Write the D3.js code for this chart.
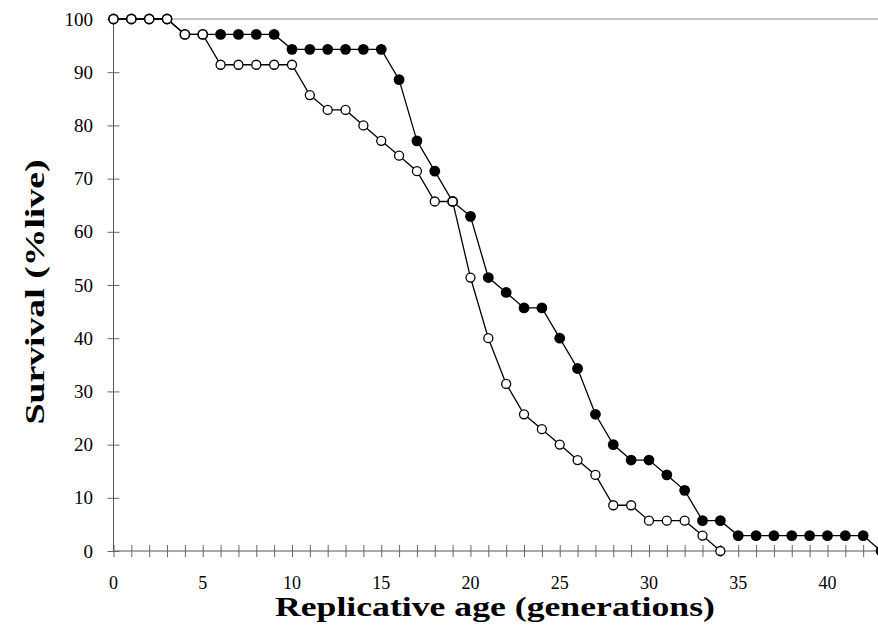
<!DOCTYPE html>
<html lang="en">
<head>
    <meta charset="UTF-8">
    <title>Survival curves</title>
    <script src="https://d3js.org/d3.v7.min.js"></script>
    <style>
        body { margin: 0; background: #fff; }
        svg { display: block; }
        text { font-family: "Liberation Serif", "Times New Roman", serif; fill: #000; }
    </style>
</head>
<body>
    <svg id="chart" width="878" height="637"></svg>

    <script>
        // generations (x) for each series
        const filledAge = d3.range(0, 44);   // 0..43
        const openAge = d3.range(0, 35);     // 0..34

        // survival (% live), filled circles
        const filledSurvival = [
            100, 100, 100, 100, 97.1, 97.1, 97.1, 97.1, 97.1, 97.1,
            94.3, 94.3, 94.3, 94.3, 94.3, 94.3, 88.6, 77.1, 71.4, 65.7,
            62.9, 51.4, 48.6, 45.7, 45.7, 40.0, 34.3, 25.7, 20.0, 17.1,
            17.1, 14.3, 11.4, 5.7, 5.7, 2.9, 2.9, 2.9, 2.9, 2.9,
            2.9, 2.9, 2.9, 0
        ];

        // survival (% live), open circles
        const openSurvival = [
            100, 100, 100, 100, 97.1, 97.1, 91.4, 91.4, 91.4, 91.4,
            91.4, 85.7, 82.9, 82.9, 80.0, 77.1, 74.3, 71.4, 65.7, 65.7,
            51.4, 40.0, 31.4, 25.7, 22.9, 20.0, 17.1, 14.3, 8.6, 8.6,
            5.7, 5.7, 5.7, 2.9, 0
        ];

        const yTicks = [0, 10, 20, 30, 40, 50, 60, 70, 80, 90, 100];
        const xTicks = [0, 5, 10, 15, 20, 25, 30, 35, 40];

        const svg = d3.select("#chart");

        const x = d3.scaleLinear().domain([0, 43]).range([113.5, 881]);
        const y = d3.scaleLinear().domain([0, 100]).range([551, 19]);

        // top border line
        svg.append("line")
            .attr("x1", x(0)).attr("x2", 878)
            .attr("y1", y(100)).attr("y2", y(100))
            .attr("stroke", "#8a8a8a").attr("stroke-width", 1);

        // x axis: ticks every generation, crossing the axis line
        const xAxis = svg.append("g")
            .attr("transform", `translate(0, ${y(0)})`)
            .call(d3.axisBottom(x).tickValues(d3.range(0, 44)).tickSize(6).tickFormat(""));
        xAxis.select(".domain").attr("stroke", "#555").attr("d", `M${x(0)},0H878`);
        xAxis.selectAll(".tick line").attr("y1", -6).attr("y2", 6).attr("stroke", "#666");

        svg.append("g").selectAll("text")
            .data(xTicks)
            .join("text")
            .attr("x", d => x(d))
            .attr("y", 589)
            .attr("text-anchor", "middle")
            .attr("font-size", 18)
            .text(d => d);

        // y axis
        const yAxis = svg.append("g")
            .attr("transform", `translate(${x(0)}, 0)`)
            .call(d3.axisLeft(y).tickValues(yTicks).tickSize(6).tickFormat(""));
        yAxis.select(".domain").attr("stroke", "#555").attr("d", `M0,${y(0)}V${y(100)}`);
        yAxis.selectAll(".tick line").attr("x1", -6).attr("x2", 6).attr("stroke", "#666");

        svg.append("g").selectAll("text")
            .data(yTicks)
            .join("text")
            .attr("x", 93)
            .attr("y", d => y(d))
            .attr("dy", "0.35em")
            .attr("text-anchor", "end")
            .attr("font-size", 19)
            .text(d => d);

        // axis titles
        svg.append("text")
            .attr("x", 495)
            .attr("y", 616)
            .attr("text-anchor", "middle")
            .attr("font-size", 27)
            .attr("font-weight", "bold")
            .attr("textLength", 440)
            .attr("lengthAdjust", "spacingAndGlyphs")
            .text("Replicative age (generations)");

        svg.append("text")
            .attr("transform", "translate(44, 292) rotate(-90)")
            .attr("text-anchor", "middle")
            .attr("font-size", 28)
            .attr("font-weight", "bold")
            .attr("textLength", 265)
            .attr("lengthAdjust", "spacingAndGlyphs")
            .text("Survival (%live)");

        const line = d3.line()
            .x(d => x(d[0]))
            .y(d => y(d[1]));

        // filled series first, open series drawn on top
        const filled = filledAge.map((a, i) => [a, filledSurvival[i]]);
        const open = openAge.map((a, i) => [a, openSurvival[i]]);

        svg.append("path")
            .datum(filled)
            .attr("d", line)
            .attr("fill", "none")
            .attr("stroke", "#000")
            .attr("stroke-width", 1.3);

        svg.append("g").selectAll("circle")
            .data(filled)
            .join("circle")
            .attr("cx", d => x(d[0]))
            .attr("cy", d => y(d[1]))
            .attr("r", 5.4)
            .attr("fill", "#000");

        svg.append("path")
            .datum(open)
            .attr("d", line)
            .attr("fill", "none")
            .attr("stroke", "#000")
            .attr("stroke-width", 1.3);

        svg.append("g").selectAll("circle")
            .data(open)
            .join("circle")
            .attr("cx", d => x(d[0]))
            .attr("cy", d => y(d[1]))
            .attr("r", 4.5)
            .attr("fill", "#fff")
            .attr("stroke", "#000")
            .attr("stroke-width", 1.3);
    </script>
</body>
</html>
